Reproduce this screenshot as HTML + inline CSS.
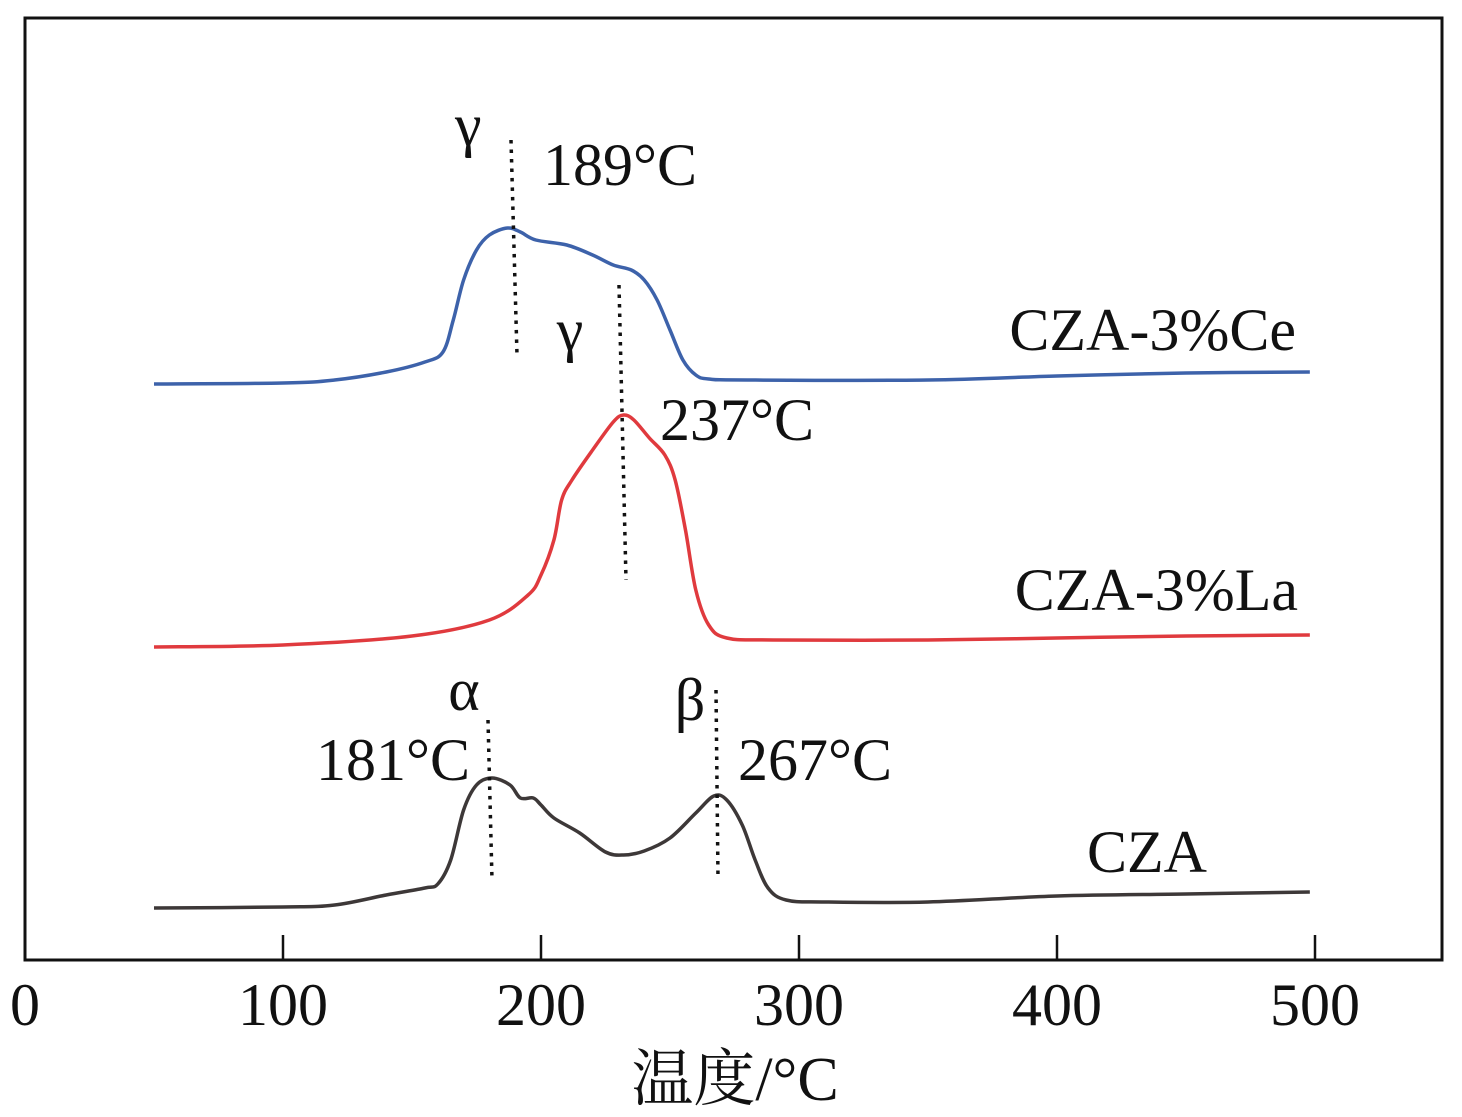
<!DOCTYPE html>
<html><head><meta charset="utf-8"><style>
html,body{margin:0;padding:0;background:#fff;}
svg{display:block;}
text{font-family:"Liberation Serif","Noto Serif CJK SC",serif;fill:#111;}
</style></head><body>
<svg id="chart" width="1462" height="1117" viewBox="0 0 1462 1117" xmlns="http://www.w3.org/2000/svg">
<rect x="25" y="18" width="1417" height="942" fill="none" stroke="#111" stroke-width="3"/>
<g id="ticks"></g>
<g id="series"></g>
<g id="annot"></g>
<text x="735" y="1100" font-size="62" text-anchor="middle">温度/°C</text>
</svg>
<script>
const xTicks=[0,100,200,300,400,500];
const czaT=[50,100,120,140,155,160,165,170,175,181,188,192,197,200,205,215,225,232,240,250,260,267,272,278,283,288,295,310,350,400,450,498];
const czaV=[52,53,55,65,72,76,100,150,175,182,175,162,162,155,142,127,108,105,109,122,147,164,160,135,100,72,60,58,58,64,66,68];
const laT=[50,100,150,180,195,200,205,208,212,220,228,232,236,242,248,252,256,260,265,272,290,350,400,450,498];
const laV=[313,315,324,340,365,385,420,460,480,510,538,545,540,522,505,480,430,370,335,322,320,320,322,324,325];
const ceT=[50,100,120,140,155,162,166,170,175,180,187,192,198,210,220,228,235,240,245,250,255,260,265,280,350,400,450,498];
const ceV=[576,577,580,588,598,608,640,680,710,725,732,728,720,715,705,695,690,680,660,630,600,585,581,580,580,584,587,588];
const seriesNames=["cza","cza-3la","cza-3ce"];
const X=t=>25+2.58*t, Y=v=>960-v;
const NS="http://www.w3.org/2000/svg";
const tk=document.getElementById('ticks');
xTicks.forEach(t=>{
  const l=document.createElementNS(NS,'line');
  
  
  l.setAttribute('x1',X(t));l.setAttribute('x2',X(t));l.setAttribute('y1',960);l.setAttribute('y2',935);
  l.setAttribute('stroke','#111');l.setAttribute('stroke-width','2.5');tk.appendChild(l);
  const tx=document.createElementNS(NS,'text');
  
  
  tx.setAttribute('x',X(t));tx.setAttribute('y',1025);tx.setAttribute('font-size','60');tx.setAttribute('text-anchor','middle');
  tx.textContent=t;tk.appendChild(tx);
});
function curve(T,V,col,name){
  const p=T.map((t,i)=>[X(t),Y(V[i])]);
  let d='M'+p[0][0]+','+p[0][1];
  for(let i=0;i<p.length-1;i++){
    const p0=p[Math.max(0,i-1)],p1=p[i],p2=p[i+1],p3=p[Math.min(p.length-1,i+2)];
    d+=' C'+(p1[0]+(p2[0]-p0[0])/6)+','+(p1[1]+(p2[1]-p0[1])/6)+' '+(p2[0]-(p3[0]-p1[0])/6)+','+(p2[1]-(p3[1]-p1[1])/6)+' '+p2[0]+','+p2[1];
  }
  const e=document.createElementNS(NS,'path');
  
  
  e.setAttribute('d',d);e.setAttribute('fill','none');e.setAttribute('stroke',col);e.setAttribute('stroke-width','3.5');
  document.getElementById('series').appendChild(e);
}
curve(czaT,czaV,'#3d3838','cza-curve');
curve(laT,laV,'#e03a3e','cza-3la-curve');
curve(ceT,ceV,'#3d62aa','cza-3ce-curve');
const an=document.getElementById('annot');
[[511,140,517,355],[619,285,626,580],[488,720,492,880],[716,690,718,878]].forEach(a=>{
  const l=document.createElementNS(NS,'line');
  
  
  l.setAttribute('x1',a[0]);l.setAttribute('y1',a[1]);l.setAttribute('x2',a[2]);l.setAttribute('y2',a[3]);
  l.setAttribute('stroke','#111');l.setAttribute('stroke-width','3.5');l.setAttribute('stroke-dasharray','3.5 6');
  an.appendChild(l);
});
[["γ",455,145,'start'],["189°C",543,185,'start'],["γ",570,350,'middle'],["237°C",660,440,'start'],
 ["CZA-3%Ce",1296,350,'end'],["CZA-3%La",1298,610,'end'],["CZA",1207,872,'end'],
 ["α",464,710,'middle'],["181°C",470,780,'end'],["β",690,720,'middle'],["267°C",738,780,'start']].forEach(a=>{
  const tx=document.createElementNS(NS,'text');
  
  
  tx.setAttribute('x',a[1]);tx.setAttribute('y',a[2]);tx.setAttribute('font-size','60');tx.setAttribute('text-anchor',a[3]);
  tx.textContent=a[0];an.appendChild(tx);
});
</script>
</body></html>
